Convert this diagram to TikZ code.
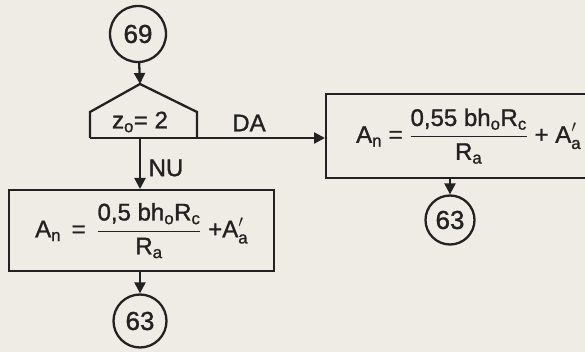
\documentclass[tikz,border=0pt]{standalone}
\usepackage{amsmath}
\usepackage{fontspec}
\setmainfont{Liberation Sans}[FakeBold=1.2]
\usetikzlibrary{arrows.meta}
\definecolor{paper}{HTML}{EFECE6}
\definecolor{ink}{HTML}{222222}
\newcommand\sbx[1]{\textsubscript{#1}}
\tikzset{
  line/.style={draw=ink, line width=2.3pt},
  arrowline/.style={line, -{Triangle[length=11pt,width=11pt]}},
  conn/.style={circle, draw=ink, line width=2.3pt, inner sep=0pt, text=ink,
    font=\fontsize{26}{30}\selectfont},
  formbox/.style={draw=ink, line width=2.3pt, inner sep=0pt, text=ink,
    font=\fontsize{24}{28}\selectfont},
  lbl/.style={text=ink, inner sep=0pt, font=\fontsize{24}{28}\selectfont}
}
\begin{document}
\begin{tikzpicture}[x=1pt,y=-1pt]
\useasboundingbox (0,0) rectangle (585,352);
\fill[paper] (0,0) rectangle (585,352);
\clip (0,0) rectangle (585,352);

% connector 69
\node[conn, minimum size=56pt] (c69) at (138,34) {69};

% decision
\coordinate (apex) at (140,84);
\coordinate (dl) at (90,138);
\coordinate (dr) at (197,138);
\coordinate (dm) at (140,138);
\draw[line, line join=miter] (dl) -- (90,112) -- (apex) -- (197,112) -- (dr);
\draw[line] (dl) -- (dr);
\node[lbl] (cond) at (140,122) {z\sbx{o}= 2};
\node[lbl] (da) at (249,123) {DA};
\node[lbl] (nu) at (166,168) {NU};

% right formula box
\node[formbox, minimum width=275pt, minimum height=84pt, anchor=north west] (rbox) at (325,93)
  {\hspace*{10pt}A\sbx{n} = $\dfrac{\text{0,55 bh\sbx{o}R\sbx{c}}}{\text{R\sbx{a}}}$ + $\text{A}'_{\text{a}}$};

% left formula box
\node[formbox, minimum width=265pt, minimum height=81pt, anchor=north west] (lbox) at (8,189)
  {A\sbx{n}\, =\, $\dfrac{\text{0,5 bh\sbx{o}R\sbx{c}}}{\text{R\sbx{a}}}$ +$\text{A}'_{\text{a}}$};

% end connectors
\node[conn, minimum size=49pt] (c63a) at (450,220) {63};
\node[conn, minimum size=53pt] (c63b) at (140,321) {63};

% connectors
\draw[arrowline] (c69) -- (apex);
\draw[arrowline] (dr) -- (dr -| rbox.west);
\draw[arrowline] (dm) -- (dm |- lbox.north);
\draw[arrowline] (rbox.south -| c63a) -- (c63a);
\draw[arrowline] (lbox.south -| c63b) -- (c63b);
\end{tikzpicture}
\end{document}
